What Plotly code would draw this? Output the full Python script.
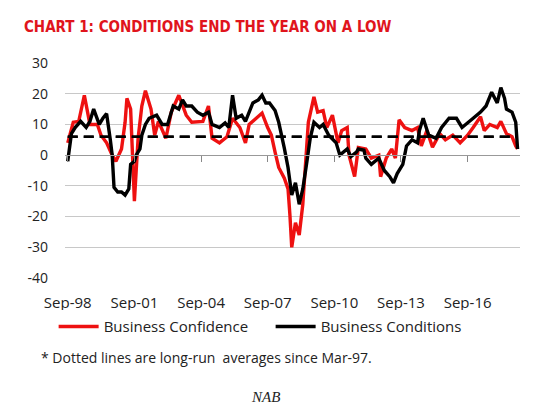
import plotly.graph_objects as go

# Business Confidence (red)
conf_dates = ["1998-09", "1998-12", "1999-03", "1999-06", "1999-09", "2000-01", "2000-03",
              "2000-06", "2000-09", "2000-11", "2001-02", "2001-04", "2001-05", "2001-07",
              "2001-09", "2001-11", "2002-01", "2002-03", "2002-06", "2002-08", "2002-10",
              "2003-02", "2003-05", "2003-09", "2004-01", "2004-04", "2004-10", "2005-01",
              "2005-03", "2005-07", "2005-11", "2006-02", "2006-06", "2006-09", "2006-11",
              "2007-03", "2007-06", "2007-09", "2007-11", "2008-01", "2008-03", "2008-06",
              "2008-08", "2008-09", "2008-10", "2008-12", "2009-02", "2009-04", "2009-06",
              "2009-07", "2009-10", "2009-12", "2010-03", "2010-05", "2010-08", "2010-11",
              "2011-01", "2011-04", "2011-05", "2011-08", "2011-10", "2012-02", "2012-05",
              "2012-09", "2012-10", "2013-01", "2013-04", "2013-06", "2013-08", "2013-11",
              "2014-03", "2014-06", "2014-08", "2014-11", "2015-02", "2015-06", "2015-09",
              "2016-01", "2016-05", "2016-09", "2016-12", "2017-04", "2017-06", "2017-09",
              "2018-01", "2018-03", "2018-06", "2018-09", "2018-11", "2018-12"]
conf_values = [4, 10.7, 11, 19.5, 10, 10, 6.5,
               4, 0, -2, 2, 10.7, 18.5, 15,
               -15, 5.5, 16, 21, 15, 6.5, 11,
               5.5, 14, 19.5, 13, 10.7, 11, 16,
               5.5, 4, 6, 12, 9, 4, 10,
               12, 13.7, 9, 6.5, 1, -4, -7.5,
               -11, -19.5, -30, -22, -26, -16, 0,
               10.7, 19, 14, 14.5, 9, 13, 4,
               8, 9, 0, -7, 2.5, 2, -1,
               0, -7, -1, 2, -1, 11.5, 9,
               8, 9, 3, 8, 2.6, 7, 5,
               6.5, 4, 6.5, 9, 12.5, 8, 10,
               9, 11, 7, 6, 3, 2]

# Business Conditions (black)
cond_dates = ["1998-09", "1998-11", "1999-01", "1999-04", "1999-07", "1999-09", "1999-11",
              "2000-02", "2000-04", "2000-06", "2000-08", "2000-09", "2000-10", "2000-12",
              "2001-02", "2001-04", "2001-06", "2001-07", "2001-09", "2001-10", "2001-12",
              "2002-01", "2002-03", "2002-05", "2002-09", "2002-12", "2003-03", "2003-06",
              "2003-09", "2003-11", "2004-01", "2004-04", "2004-07", "2004-10", "2005-01",
              "2005-03", "2005-07", "2005-10", "2005-12", "2006-02", "2006-04", "2006-07",
              "2006-09", "2007-01", "2007-04", "2007-06", "2007-08", "2007-10", "2008-01",
              "2008-03", "2008-06", "2008-08", "2008-10", "2008-12", "2009-02", "2009-04",
              "2009-06", "2009-08", "2009-10", "2010-01", "2010-03", "2010-06", "2010-10",
              "2010-12", "2011-04", "2011-06", "2011-09", "2011-10", "2012-01", "2012-02",
              "2012-05", "2012-09", "2012-12", "2013-03", "2013-05", "2013-07", "2013-10",
              "2013-12", "2014-03", "2014-06", "2014-07", "2014-09", "2014-12", "2015-04",
              "2015-07", "2015-11", "2016-03", "2016-06", "2016-12", "2017-04", "2017-07",
              "2017-10", "2018-01", "2018-03", "2018-05", "2018-06", "2018-09", "2018-11",
              "2018-12"]
cond_values = [-2, 7, 9, 11, 9, 11, 15,
               10, 12, 13.5, 5, 0, -10.5, -12,
               -12, -13, -11, -3, -2, 0, 2,
               6.5, 10, 12, 13, 10, 10, 16,
               15, 18, 16, 16, 14, 13, 14,
               10, 9, 10.5, 9, 19.5, 12, 13,
               11, 17, 18, 19.5, 17, 17, 14.5,
               10.7, 2.3, -4, -13, -9, -16, -11,
               -3, 5.5, 10.7, 9, 10, 6.5, 4,
               0, 2, -0.5, 1, 2, 1.6, -1,
               -3, -1, -5, -7, -9, -6, -3,
               3, 5, 4, 8, 12, 6.5, 5.5,
               9, 12, 12, 9, 12, 14, 16,
               20.5, 17, 22, 18.5, 15, 14, 10.7,
               2]

# long-run averages since Mar-97
avg_dates = ["1998-09", "2018-12"]
avg_confidence = 6
avg_conditions = 6

tick_dates = ["1998-09-01", "2001-09-01", "2004-09-01", "2007-09-01",
              "2010-09-01", "2013-09-01", "2016-09-01"]
tick_text = ["Sep-98", "Sep-01", "Sep-04", "Sep-07", "Sep-10", "Sep-13", "Sep-16"]
y_ticks = [-40, -30, -20, -10, 0, 10, 20, 30]
y_text = ["-40", "-30", "-20", "-10", "0", "10", "20", "30"]

RED = "#ee1111"
font = "Open Sans, Lato, sans-serif"

fig = go.Figure()
fig.add_trace(go.Scatter(x=conf_dates, y=conf_values, name="Business Confidence",
                         mode="lines", line=dict(color=RED, width=3.4)))
fig.add_trace(go.Scatter(x=cond_dates, y=cond_values, name="Business Conditions",
                         mode="lines", line=dict(color="black", width=3.4)))
fig.add_trace(go.Scatter(x=avg_dates, y=[avg_confidence] * 2, mode="lines", showlegend=False,
                         line=dict(color="black", width=2.4, dash="10px,6px")))
fig.add_trace(go.Scatter(x=avg_dates, y=[avg_conditions] * 2, mode="lines", showlegend=False,
                         line=dict(color="black", width=2.4, dash="10px,6px")))
# axis line with tick marks sitting on zero
fig.add_trace(go.Scatter(x=avg_dates, y=[None, None], xaxis="x2", showlegend=False,
                         hoverinfo="skip"))

fig.update_layout(
    width=532, height=412,
    margin=dict(l=57, r=20, t=55, b=142),
    paper_bgcolor="white", plot_bgcolor="white",
    font=dict(family=font, size=14, color="#222"),
    title=dict(text="<b>CHART 1: CONDITIONS END THE YEAR ON A LOW</b>",
               font=dict(family="Liberation Sans Narrow, DejaVu Sans Condensed, sans-serif",
                         size=15, color="#e0141c"),
               xref="container", x=0.03, xanchor="left",
               yref="container", y=0.954, yanchor="middle"),
    xaxis=dict(type="date", range=["1998-07-18", "2019-01-10"], tickvals=tick_dates,
               ticktext=tick_text, showgrid=False, showline=False, ticks="",
               tickfont=dict(size=15), zeroline=False, ticklabelstandoff=14),
    xaxis2=dict(type="date", overlaying="x", matches="x", anchor="free",
                position=40 / 70, side="bottom", tickvals=tick_dates,
                showticklabels=False, ticks="outside", ticklen=6, tickcolor="#888",
                showline=True, linecolor="#999", linewidth=1.2, showgrid=False),
    yaxis=dict(range=[-40, 30], tickvals=y_ticks, ticktext=y_text, showgrid=True,
               gridcolor="#c8c8c8", gridwidth=1, zeroline=False, showline=False,
               ticks="", tickfont=dict(size=14), ticklabelstandoff=16),
    legend=dict(orientation="h", x=-0.025, xanchor="left", y=-0.15, yanchor="top",
                font=dict(size=15), itemwidth=40, entrywidth=162),
    annotations=[
        dict(text="* Dotted lines are long-run  averages since Mar-97.",
             xref="paper", yref="paper", x=-0.057, y=-0.372, xanchor="left",
             yanchor="middle", showarrow=False, font=dict(size=14, color="#222")),
        dict(text="<i>NAB</i>", xref="paper", yref="paper", x=0.44, y=-0.553,
             xanchor="center", yanchor="middle", showarrow=False,
             font=dict(family="Liberation Serif, serif", size=15, color="#222")),
    ],
)

fig.write_html("out.html")
